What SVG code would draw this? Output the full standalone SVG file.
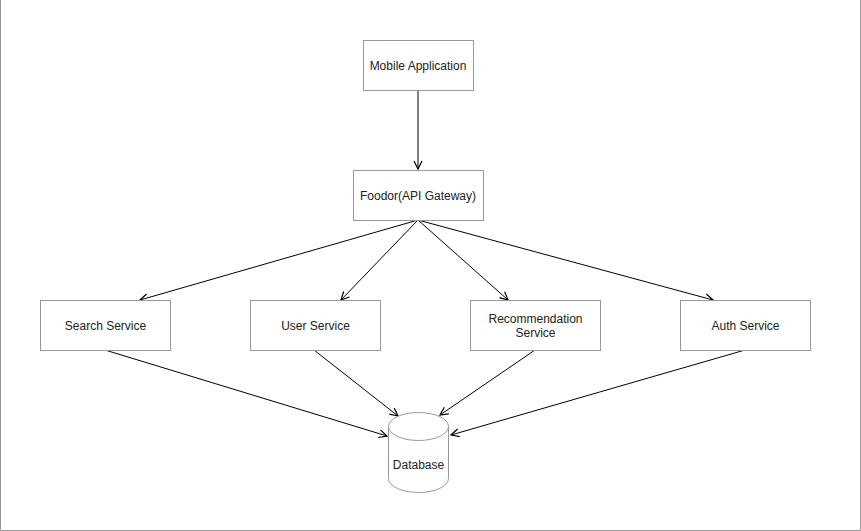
<svg xmlns="http://www.w3.org/2000/svg" width="861" height="531" viewBox="0 0 861 531">
<defs>
<style>
.box{fill:#fff;stroke:#999;stroke-width:1}
.lbl{font-family:"Liberation Sans",Arial,sans-serif;font-size:12px;fill:#222;text-anchor:middle;dominant-baseline:central}
.edge{fill:none;stroke:#000;stroke-width:1;marker-end:url(#arr)}
</style>
<marker id="arr" viewBox="0 0 10 10" refX="9" refY="5" markerWidth="10" markerHeight="10" markerUnits="userSpaceOnUse" orient="auto">
<path d="M1,1 L9,5 L1,9" fill="none" stroke="#000" stroke-width="1.2"/>
</marker>
</defs>
<rect x="0" y="0" width="861" height="531" fill="#fff"/>
<path d="M0.5,0 V530.5 H860.5 V0" fill="none" stroke="#999" stroke-width="1"/>
<g id="connectors">
<line class="edge" x1="418" y1="90" x2="418" y2="169"/>
<line class="edge" x1="418" y1="220" x2="140" y2="300"/>
<line class="edge" x1="418" y1="220" x2="341" y2="300"/>
<line class="edge" x1="418" y1="220" x2="508" y2="300"/>
<line class="edge" x1="418" y1="220" x2="713" y2="300"/>
<line class="edge" x1="105" y1="350" x2="387" y2="436"/>
<line class="edge" x1="314" y1="350" x2="398" y2="416"/>
<line class="edge" x1="535" y1="350" x2="440" y2="415"/>
<line class="edge" x1="745" y1="350" x2="451" y2="435"/>
</g>
<g id="mobile">
<rect class="box" x="363.5" y="40.5" width="110" height="50"/>
<text class="lbl" x="418" y="65.5">Mobile Application</text>
</g>
<g id="gateway">
<rect class="box" x="353.5" y="170.5" width="130" height="50"/>
<text class="lbl" x="418" y="195.5">Foodor(API Gateway)</text>
</g>
<g id="search">
<rect class="box" x="40.5" y="300.5" width="130" height="50"/>
<text class="lbl" x="105.5" y="325.5">Search Service</text>
</g>
<g id="user">
<rect class="box" x="250.5" y="300.5" width="130" height="50"/>
<text class="lbl" x="315.5" y="325.5">User Service</text>
</g>
<g id="recommendation">
<rect class="box" x="470.5" y="300.5" width="130" height="50"/>
<text class="lbl" x="535.5" y="318.5">Recommendation</text>
<text class="lbl" x="535.5" y="332.5">Service</text>
</g>
<g id="auth">
<rect class="box" x="680.5" y="300.5" width="130" height="50"/>
<text class="lbl" x="745.5" y="325.5">Auth Service</text>
</g>
<g id="database">
<path class="box" d="M388.5,426.5 A30,14 0 0 1 448.5,426.5 V478.5 A30,14 0 0 1 388.5,478.5 Z"/>
<path d="M388.5,426.5 A30,14 0 0 0 448.5,426.5" fill="none" stroke="#999" stroke-width="1"/>
<text class="lbl" x="418.5" y="464.5">Database</text>
</g>
</svg>
